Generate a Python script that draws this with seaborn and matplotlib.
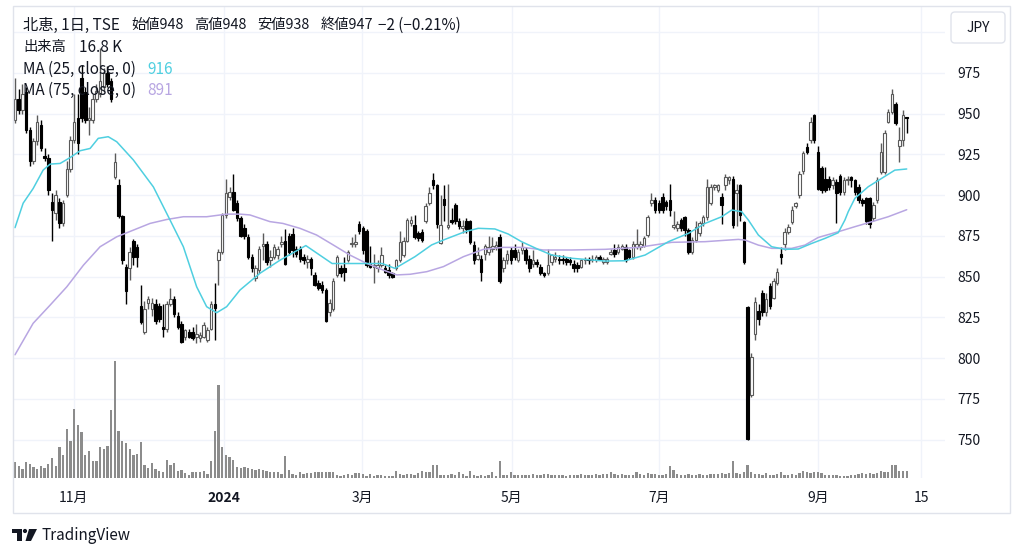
import numpy as np
import pandas as pd
import matplotlib
matplotlib.use("Agg")
import matplotlib.pyplot as plt
import seaborn as sns
from matplotlib.patches import Rectangle, FancyBboxPatch, Polygon, Circle
from matplotlib.transforms import Affine2D

# ---------------- data ----------------
opens = [
    946, 959, 952, 963, 940, 921, 933, 943, 924, 923,
    896, 889, 896, 883, 900, 916, 934, 947, 972, 963,
    946, 946, 959, 962, 966, 975, 970, 911, 906, 887,
    856, 855, 872, 868, 832, 816, 834, 830, 833, 832,
    819, 818, 833, 836, 826, 821, 813, 816, 816, 813,
    812, 813, 811, 818, 833, 860, 865, 888, 899, 902,
    895, 886, 880, 874, 862, 849, 854, 869, 870, 860,
    862, 863, 870, 872, 875, 876, 867, 867, 862, 859,
    861, 851, 846, 845, 842, 828, 830, 851, 855, 855,
    860, 870, 870, 882, 880, 878, 858, 856, 855, 857,
    855, 854, 852, 855, 860, 863, 872, 883, 881.6, 876.5,
    877.5, 884, 895, 909, 906, 870.5, 897.4, 880.5, 884.5, 894,
    884, 880, 884, 884, 869.4, 861, 861, 864, 865, 867,
    868, 874.5, 855, 860, 866, 866, 860, 866, 866, 861,
    858, 859, 856, 852, 852, 859, 861, 861, 861, 861,
    860, 858, 857, 856, 860, 861, 860, 860, 862, 859,
    859, 864, 866, 865, 867, 868, 866, 862, 868, 868,
    869, 875.5, 895, 897, 895, 899, 896, 897, 880.5, 879.5,
    884.7, 886.7, 878.5, 865, 872.4, 876.5, 882.6, 886.7, 895, 905,
    903, 899, 906, 909, 910, 901, 906, 883.6, 831.5, 777.3,
    815, 829, 840, 828, 844, 837, 846, 864, 870, 877.5,
    883.6, 893, 900, 915, 929.7, 933.7, 949, 926.6, 916.4, 910,
    910, 906, 908, 912, 902, 909, 911, 909, 905, 897,
    898, 898, 886, 897, 914, 914, 945, 951, 956, 930,
    934, 948,
]
highs = [
    972, 965, 968, 966, 942, 935, 949, 946, 929, 925,
    901, 903, 898, 897, 921, 936, 962, 962, 980, 966,
    954, 962, 968, 990, 978, 979, 972, 926, 910, 888,
    858, 868, 873, 870, 845, 835, 838, 837, 836, 834,
    833, 835, 843, 838, 828, 823, 818, 818, 819, 821,
    816, 822, 819, 835, 846, 867, 889, 910, 905, 913,
    897, 887, 882, 876, 864, 857, 869, 877, 872, 866,
    870, 869, 875, 879, 877, 880, 869, 869, 864, 863,
    862, 853, 848, 847, 843, 836, 849, 863, 857, 862,
    866, 874, 876, 884, 881, 879, 869, 864, 860, 868,
    857, 858, 853, 861, 878, 874, 886, 887, 888, 878,
    879, 895, 905, 913.3, 907, 900, 906, 907, 892, 895,
    886, 885, 886, 885, 872, 868, 863, 870, 875, 874,
    872, 876, 862, 866, 868, 870, 867, 871, 868, 863,
    866, 861, 858, 853, 867, 864, 865, 863, 863, 862,
    862, 860, 859, 861, 862, 862, 863, 863, 863, 862,
    862, 867, 870, 870, 870, 870, 867, 872, 879, 872,
    875, 888, 901, 899, 897, 901, 897, 907, 890, 884,
    886, 887, 880, 874, 884, 884, 888, 910, 907, 907,
    907, 901, 913, 912, 912, 907, 907, 884, 832, 803,
    837.6, 833, 842, 840, 846, 849, 855, 868, 880, 882,
    893, 896, 915, 927, 932, 948, 950, 930, 918, 917,
    912, 911, 910, 913, 911, 912, 912, 910, 907, 898,
    899, 899, 896, 911, 932, 940, 953, 965, 957, 942,
    952, 948,
]
lows = [
    944, 950, 950, 938, 918, 919, 931, 927, 921, 900,
    872, 885, 880, 881, 899, 914, 932, 925, 945, 944,
    937, 944, 957, 960, 964, 966, 957, 910, 886, 858,
    833, 848, 857, 856, 821, 815, 830, 826, 821, 822,
    813, 816, 832, 825, 818, 809, 811, 812, 811, 809,
    810, 812, 810, 817, 811, 845, 864, 886, 897, 890,
    884, 874, 873, 861, 853, 847, 852, 860, 857, 856,
    861, 861, 868, 857, 863, 862, 862, 859, 858, 855,
    851, 844, 842, 840, 822, 826, 829, 850, 850, 847,
    859, 868, 868, 876, 864, 856, 855, 846, 853, 856,
    852, 849, 849, 854, 859, 862, 871, 881, 873, 872,
    871, 883, 894, 904, 880, 870, 884, 879, 882, 882,
    879, 877, 877, 870, 858, 860, 847, 860, 863, 865,
    866, 846, 853, 858, 858, 860, 859, 864, 858, 853,
    856, 856, 851, 850, 851, 857, 859, 858, 858, 857,
    857, 853, 853, 855, 858, 858, 859, 859, 860, 858,
    858, 863, 862, 864, 866, 859, 861, 861, 867, 866,
    868, 874, 893, 889, 889, 889, 891, 887, 879, 878,
    878, 875, 864, 864, 871, 875, 881, 885, 894, 903,
    902, 882, 903, 907, 880, 881, 884, 858, 750, 776,
    811, 820, 826, 826, 830, 836, 845, 858, 866, 876,
    882, 892, 898, 913, 925, 932, 932, 903, 901, 902,
    903, 904, 883, 900, 900, 906, 905, 900, 895, 893,
    882, 880, 884, 895, 913, 913, 944, 950, 943, 920,
    930, 938,
]
closes = [
    959, 952, 962, 940, 921, 933, 945, 929, 923, 903,
    891, 900, 883, 895, 916, 934, 945, 932, 947, 946,
    947, 959, 964, 970, 975, 968, 959, 920, 887, 860,
    841, 865, 862, 862, 822, 830, 836, 834, 823, 824,
    818, 833, 836, 827, 819, 810, 817, 813, 812, 815,
    814, 820, 817, 833, 831, 865, 888, 901, 902, 891,
    886, 875, 875, 862, 855, 855, 867, 870, 859, 862,
    868, 867, 871, 858, 865, 866, 864, 861, 860, 861,
    855, 845, 843, 842, 823, 834, 847, 862, 852, 853,
    865, 870.5, 871, 878, 866, 857, 856, 857, 857, 863,
    853, 851, 850, 860, 871, 872, 884.7, 884.5, 874.5, 873.4,
    872.4, 893, 901, 906, 882, 881.6, 894, 881.5, 883.5, 884,
    881, 881, 879, 871.5, 860, 863, 853, 869, 868, 869,
    869.5, 847, 860, 864, 860, 862, 865, 868, 860, 855,
    860, 858, 852, 851, 857, 863, 862, 860, 860, 859,
    859, 855, 855, 860, 861, 860, 861, 862, 861, 861,
    861, 865, 864, 868, 869, 860, 862, 870, 870, 870,
    873.5, 886.7, 897, 891, 891, 891, 893, 891, 881.5, 882.5,
    879.5, 878.5, 865.2, 872.4, 880.6, 882.6, 886.7, 905, 905, 906,
    906, 894, 911, 911, 881.6, 903, 888, 859, 750.3, 800.8,
    834.5, 824, 828, 836, 832, 847, 853, 862, 877.5, 880.6,
    890.8, 895, 913, 925.6, 926.6, 945, 933.7, 904, 903, 903,
    905, 909, 901, 902, 909, 910, 909, 902, 897, 895,
    884, 882, 894, 909, 926.6, 938, 951, 962, 944, 934,
    949, 947,
]
volume_k = [
    40, 29, 22.5, 40, 35, 27, 22.5, 31, 24, 36,
    50, 31, 78, 58, 123, 92, 172, 133, 114, 58,
    68, 42, 42, 78, 73, 81, 171, 292, 118, 92,
    88, 73, 58, 61, 89, 33, 25, 38, 23, 18,
    14, 44, 32, 38, 17, 21, 13, 8, 15, 14,
    14, 18, 10, 42, 117, 233, 77, 58, 52, 44,
    27, 25, 28, 25, 23, 21, 22, 21, 18, 14,
    14, 14, 11, 56, 19, 10, 8, 14, 10, 13,
    13, 14, 14, 14, 14, 15, 15, 8, 6, 8,
    11, 8, 13, 13, 10, 6, 11, 6, 8, 8,
    6, 4, 6, 17, 10, 8, 10, 10, 7, 13,
    17, 15, 15, 33, 32, 8, 8, 7, 10, 8,
    14, 10, 6, 18, 7, 6, 7, 6, 7, 14,
    6, 42, 7, 8, 14, 8, 7.5, 7, 8, 7,
    10, 8, 8, 10, 10, 7, 8, 8, 7, 6,
    8, 8, 7, 10, 8, 7, 8, 11, 8, 10,
    11, 14, 11, 8, 11, 8, 7, 8, 15, 10,
    8, 12.5, 11, 11, 8, 7.5, 10, 29, 21, 10,
    8, 8, 11, 8, 7, 10, 7, 8, 11, 10,
    11, 12.5, 10, 12.5, 42, 12.5, 10, 15, 33, 14,
    11, 11, 8, 12, 7, 8, 10, 15, 8, 8,
    10, 8, 12.5, 17, 14, 13, 14, 15, 12.5, 8,
    8, 8, 7, 6, 6, 6, 7, 8, 10, 12,
    10, 13, 11, 13, 18, 14, 15, 33, 33, 18,
    17, 16.8,
]
ma25_pos = [0, 2.2, 4.9, 7.6, 9.5, 12.2, 14.9, 17.6, 20.3, 22.5, 25.2, 27.5, 32, 37.4, 41.9,
            45.5, 49.1, 51.8, 54.5, 57.2, 60.8, 66.2, 71.6, 78.6, 85.7, 99.2, 102.7, 108.1,
            112.6, 116.2, 121.6, 125.2, 129.7, 133.3, 136.9, 141.4, 145.1, 150.5, 159.5,
            164.9, 170.3, 176.6, 182, 186.5, 191, 193.7, 196.4, 198.2, 200.9, 204.5, 208.1,
            211.7, 215.3, 218.9, 222.5, 224.3, 225.2, 227, 230.6, 234.2, 237.8, 241]
ma25_val = [880, 895, 904, 915.3, 919, 919.4, 923, 927.2, 928.6, 934.8, 935.8, 932.7, 921.5, 905,
            884.7, 868.3, 843.7, 831.5, 827.8, 831.5, 841.7, 852, 860, 869, 858, 858, 855, 862.2,
            869.4, 872.8, 877.5, 879.6, 879.2, 876.1, 871.4, 866.7, 863.2, 861.2, 859.5, 859.7,
            863.2, 871.4, 876.5, 882.6, 886.7, 890.8, 889.8, 884.7, 875.5, 868.3, 866.7, 866.9,
            870.3, 873.4, 876.9, 884.7, 889.8, 898, 905.1, 910.2, 915.3, 916]
ma75_pos = [0, 4.9, 9.5, 14, 18.5, 23, 27.5, 32, 36.5, 41, 45.5, 51.8, 57.2, 60.8, 63.5, 68.9,
            72.4, 77, 81.5, 86, 90.5, 95, 99.5, 103.2, 106.8, 111.3, 115.8, 121.2, 126.6, 132,
            137.4, 142.8, 150.5, 159.5, 168.5, 177.5, 186.5, 195.5, 197.3, 200.9, 204.5, 209.9,
            213.5, 217.1, 222.5, 227, 231.5, 236, 241]
ma75_val = [802, 821.3, 832.5, 843.7, 857, 868.3, 874.4, 878.5, 882.6, 885, 886.7, 886.7, 888.3,
            888.3, 887.8, 883.7, 882.6, 879.6, 875.5, 869.4, 863.2, 858.1, 854, 851, 851.4, 853,
            856.1, 862.2, 866.7, 867.9, 867.9, 866.3, 866.3, 866.7, 867.9, 871, 871.4, 872.8,
            872.4, 869.3, 867.3, 867.3, 869.3, 874, 877.5, 880.6, 883.6, 886.7, 891]
time_tick_pos = [15.9, 56.5, 93.8, 134.3, 174.1, 217.0, 244.9]
time_tick_labels = ["11月", "2024", "3月", "5月", "7月", "9月", "15"]
price_ticks = [750, 775, 800, 825, 850, 875, 900, 925, 950, 975]
grid_prices = price_ticks + [1000]
symbol_title = "北恵, 1日, TSE"

# ---------------- styling / layout ----------------
sns.set_theme(style="white")
plt.rcParams['font.family'] = ['Noto Sans CJK JP', 'DejaVu Sans']
TXT = '#131722'
GRID = '#f0f3fa'
CYAN = '#4fcfe0'
LAV = '#b8a6e2'
UP_EDGE = '#5a5a5a'
VOL_C = '#8c8c8c'

W, H = 1024, 557
fig = plt.figure(figsize=(W / 100, H / 100), dpi=100, facecolor='white')
T = Affine2D().scale(1 / 100, -1 / 100).translate(0, H / 100) + fig.dpi_scale_trans

L_, R_, TOP_, BOT_ = 13, 945, 6, 478
rect = [L_ / W, 1 - BOT_ / H, (R_ - L_) / W, (BOT_ - TOP_) / H]
axv = fig.add_axes(rect)
ax = fig.add_axes(rect, sharex=axv)
ax.patch.set_visible(False)
axv.set_facecolor('white')
for a in (ax, axv):
    for s in a.spines.values():
        s.set_visible(False)

YMIN, YMAX = 726.4, 1016.0
VMAX = (BOT_ - TOP_) * 2.5
XMIN, XMAX = -0.54, 251.35

n = len(closes)
idx = np.arange(n)

# grid (drawn in the background axes)
for p in grid_prices:
    axv.axhline((p - YMIN) / (YMAX - YMIN) * VMAX, color=GRID, lw=1, zorder=0)
for t in time_tick_pos:
    axv.axvline(t, color=GRID, lw=1, zorder=0)

# volume
vol_df = pd.DataFrame({'idx': idx, 'vol': volume_k})
sns.barplot(data=vol_df, x='idx', y='vol', native_scale=True, orient='x', color=VOL_C,
            saturation=1, width=0.64, errorbar=None, linewidth=0, ax=axv)

# candles
o = np.array(opens, float); h = np.array(highs, float)
l = np.array(lows, float); c = np.array(closes, float)
up = c >= o
wick_col = np.where(up, UP_EDGE, '#000000')
ax.vlines(idx, l, h, colors=wick_col, linewidth=1.0, zorder=2)
body_bot = np.minimum(o, c)
body_h = np.maximum(np.abs(c - o), 0.6)
ax.bar(idx[up], body_h[up], bottom=body_bot[up], width=0.66, color='white',
       edgecolor=UP_EDGE, linewidth=0.8, zorder=3)
ax.bar(idx[~up], body_h[~up], bottom=body_bot[~up], width=0.66, color='#000000',
       edgecolor='#000000', linewidth=0.8, zorder=3)

# moving averages
sns.lineplot(x=ma75_pos, y=ma75_val, ax=ax, color=LAV, linewidth=1.1, estimator=None, zorder=4)
sns.lineplot(x=ma25_pos, y=ma25_val, ax=ax, color=CYAN, linewidth=1.1, estimator=None, zorder=5)

# axes settings
ax.set_xlim(XMIN, XMAX)
ax.set_ylim(YMIN, YMAX)
axv.set_ylim(0, VMAX)
axv.set_yticks([])
axv.tick_params(bottom=False, labelbottom=False, left=False, labelleft=False)
ax.set_xlabel(''); ax.set_ylabel(''); axv.set_xlabel(''); axv.set_ylabel('')

ax.yaxis.tick_right()
ax.set_yticks(price_ticks)
ax.set_yticklabels([str(p) for p in price_ticks])
ax.tick_params(axis='y', length=0, pad=9, labelsize=10, labelcolor=TXT,
               right=False, left=False, labelright=True, labelleft=False)
ax.set_xticks(time_tick_pos)
ax.set_xticklabels(time_tick_labels)
ax.tick_params(axis='x', length=0, pad=9, labelsize=10, labelcolor=TXT, bottom=False)
for lab in ax.get_xticklabels():
    if lab.get_text() == "2024":
        lab.set_fontweight('bold')
ax.grid(False); axv.grid(False)

# outer frame
fig.add_artist(Rectangle((13, 6), 997, 507, transform=T, fill=False, ec='#e0e3eb', lw=1))

# currency box
fig.add_artist(FancyBboxPatch((951, 12), 54, 31, boxstyle='round,pad=0,rounding_size=4',
                              transform=T, fc='white', ec='#e0e3eb', lw=1))
fig.text(978, 27.5, "JPY", transform=T, ha='center', va='center', fontsize=10, color=TXT)

# header legend
chg = closes[-1] - closes[-2]
pct = chg / closes[-2] * 100
def fmt_signed(v, d=0):
    s = f"{abs(v):.{d}f}"
    return ("−" if v < 0 else "+") + s

fs = 11
fs_cjk = 10.3
fig.text(23, 25, symbol_title, transform=T, va='center', fontsize=fs, color=TXT)
fig.text(131, 25, f"始値{opens[-1]:.0f}", transform=T, va='center', fontsize=fs_cjk, color=TXT)
fig.text(194, 25, f"高値{highs[-1]:.0f}", transform=T, va='center', fontsize=fs_cjk, color=TXT)
fig.text(257, 25, f"安値{lows[-1]:.0f}", transform=T, va='center', fontsize=fs_cjk, color=TXT)
fig.text(321, 25, f"終値{closes[-1]:.0f}", transform=T, va='center', fontsize=fs_cjk, color=TXT)
fig.text(378, 25, f"{fmt_signed(chg)} ({fmt_signed(pct, 2)}%)", transform=T, va='center',
         fontsize=fs, color=TXT)
fig.text(23, 47.5, "出来高", transform=T, va='center', fontsize=fs_cjk, color=TXT)
fig.text(79, 47.5, f"{volume_k[-1]:.1f} K", transform=T, va='center', fontsize=fs, color=TXT)
fig.text(23, 69.5, "MA (25, close, 0)", transform=T, va='center', fontsize=fs, color=TXT)
fig.text(147, 69.5, f"{ma25_val[-1]:.0f}", transform=T, va='center', fontsize=fs, color=CYAN)
fig.text(23, 90.5, "MA (75, close, 0)", transform=T, va='center', fontsize=fs, color=TXT)
fig.text(147, 90.5, f"{ma75_val[-1]:.0f}", transform=T, va='center', fontsize=fs, color=LAV)

# TradingView logo + wordmark
fig.add_artist(Rectangle((12, 529), 9.5, 4, transform=T, fc=TXT, ec='none'))
fig.add_artist(Rectangle((17, 529), 4.5, 12, transform=T, fc=TXT, ec='none'))
fig.add_artist(Circle((25, 531), 2.1, transform=T, fc=TXT, ec='none'))
fig.add_artist(Polygon([(29, 529), (37, 529), (31, 541), (25.5, 541)], closed=True,
                       transform=T, fc=TXT, ec='none'))
fig.text(41, 535.5, "TradingView", transform=T, va='center', fontsize=11, color=TXT)

fig.savefig('out.png', dpi=100, facecolor='white')
